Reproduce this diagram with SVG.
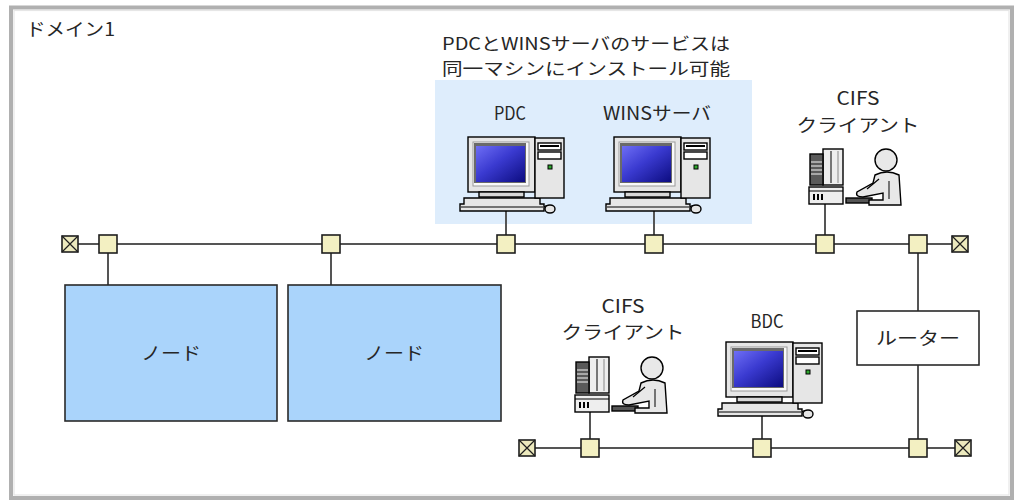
<svg xmlns="http://www.w3.org/2000/svg" width="1016" height="502" viewBox="0 0 1016 502">
  <style>
    text { font-family: "Noto Sans CJK JP", "Noto Sans", sans-serif; font-size: 18px; fill: #262626; }
    .mid { text-anchor: middle; }
    .title { font-size: 17px; }
    .wire { stroke: #555; stroke-width: 2; fill: none; }
    .tap { fill: #f3f0c2; stroke: #1e1e1e; stroke-width: 1.6; }
    .term { fill: #ece9bd; stroke: #1e1e1e; stroke-width: 1.6; }
    .node { fill: #aad4fb; stroke: #2a2a2a; stroke-width: 1.6; }
    .ol { stroke: #000; stroke-width: 1.4; }
  </style>
  <defs>
    <linearGradient id="screen" x1="0" y1="0" x2="1" y2="1">
      <stop offset="0" stop-color="#6e6ef5"/>
      <stop offset="0.45" stop-color="#3a3ad0"/>
      <stop offset="1" stop-color="#0c0c80"/>
    </linearGradient>
    <!-- desktop PC: monitor, tower, keyboard, mouse -->
    <symbol id="pc" overflow="visible">
      <rect x="8" y="2" width="67" height="55" fill="#e6e6e6" class="ol"/>
      <rect x="13" y="7" width="56" height="44" fill="#fafafa" stroke="#9a9a9a" stroke-width="1"/>
      <rect x="14" y="8" width="52" height="40" fill="#6a6a6a"/>
      <rect x="16" y="11" width="49" height="36" fill="url(#screen)"/>
      <rect x="19" y="57" width="45" height="5" fill="#d8d8d8" class="ol"/>
      <path d="M4,63 L80,63 L80,69 L84,69 L84,76 L0,76 L0,69 L4,69 Z" fill="#e6e6e6" class="ol"/>
      <line x1="1" y1="72" x2="83" y2="72" stroke="#000" stroke-width="1"/>
      <rect x="75" y="3" width="29" height="60" fill="#e6e6e6" class="ol"/>
      <rect x="78" y="8" width="23" height="7" fill="#fff" class="ol"/>
      <rect x="80" y="10" width="19" height="2" fill="#000"/>
      <rect x="78" y="17" width="23" height="7" fill="#fff" class="ol"/>
      <rect x="88" y="30" width="4" height="4" fill="#2fa82f" stroke="#000" stroke-width="1"/>
      <path d="M84,72 Q87,70 88,71" fill="none" stroke="#000" stroke-width="1.2"/>
      <ellipse cx="90" cy="74" rx="5" ry="4" fill="#e6e6e6" class="ol"/>
    </symbol>
    <!-- client workstation with seated user -->
    <symbol id="client" overflow="visible">
      <rect x="14" y="2" width="20" height="36" fill="#eeeeee" class="ol"/>
      <line x1="22" y1="4" x2="22" y2="36" stroke="#000" stroke-width="1"/>
      <line x1="29" y1="4" x2="29" y2="36" stroke="#888" stroke-width="1"/>
      <rect x="1" y="7" width="13" height="31" fill="#5a5a5a" class="ol"/>
      <line x1="2" y1="15" x2="13" y2="15" stroke="#ddd" stroke-width="1.2"/>
      <line x1="2" y1="19" x2="13" y2="19" stroke="#ddd" stroke-width="1.2"/>
      <line x1="2" y1="23" x2="13" y2="23" stroke="#ddd" stroke-width="1.2"/>
      <line x1="2" y1="27" x2="13" y2="27" stroke="#ddd" stroke-width="1.2"/>
      <rect x="0" y="40" width="34" height="17" fill="#eeeeee" class="ol"/>
      <line x1="0" y1="44" x2="34" y2="44" stroke="#000" stroke-width="1"/>
      <rect x="4" y="47" width="2" height="6" fill="#000"/>
      <rect x="8" y="47" width="2" height="6" fill="#000"/>
      <rect x="12" y="47" width="2" height="6" fill="#000"/>
      <rect x="37" y="51" width="26" height="5" fill="#555" class="ol"/>
      <circle cx="77" cy="13" r="11" fill="#e8e8e8" class="ol"/>
      <path d="M66,28 Q78,22 90,28 L92,58 L60,58 L60,53 L74,53 L74,46 L54,50 Q46,50 48,45 L64,36 Z" fill="#e8e8e8" class="ol"/>
      <path d="M70,32 L58,42" fill="none" stroke="#000" stroke-width="1.2"/>
      <path d="M80,34 L80,52" fill="none" stroke="#000" stroke-width="1"/>
    </symbol>
  </defs>

  <!-- domain frame -->
  <rect x="11" y="7.5" width="1001" height="490.5" fill="#fff" stroke="#b0b0b0" stroke-width="4"/>
  <rect x="14" y="10.5" width="995" height="484.5" fill="none" stroke="#e6e6e6" stroke-width="1.2"/>
  <text x="26" y="36" textLength="89" lengthAdjust="spacingAndGlyphs">ドメイン1</text>

  <!-- shared-host area -->
  <g id="shared-host">
    <rect x="435" y="80" width="317" height="144" fill="#deedfc"/>
    <text class="mid title" x="586" y="50" textLength="288" lengthAdjust="spacingAndGlyphs">PDCとWINSサーバのサービスは</text>
    <text class="mid title" x="586" y="75" textLength="288" lengthAdjust="spacingAndGlyphs">同一マシンにインストール可能</text>
  </g>

  <!-- connectors -->
  <g id="connectors">
    <line class="wire" x1="70" y1="244" x2="960" y2="244"/>
    <line class="wire" x1="527" y1="448" x2="963" y2="448"/>
    <line class="wire" x1="108" y1="244" x2="108" y2="286"/>
    <line class="wire" x1="331" y1="244" x2="331" y2="286"/>
    <line class="wire" x1="506" y1="210" x2="506" y2="244"/>
    <line class="wire" x1="654" y1="210" x2="654" y2="244"/>
    <line class="wire" x1="825" y1="204" x2="825" y2="244"/>
    <line class="wire" x1="918" y1="244" x2="918" y2="312"/>
    <line class="wire" x1="918" y1="365" x2="918" y2="448"/>
    <line class="wire" x1="590" y1="411" x2="590" y2="448"/>
    <line class="wire" x1="762" y1="416" x2="762" y2="448"/>
    <!-- taps on the upper segment -->
    <rect class="tap" x="99" y="235" width="18" height="18"/>
    <rect class="tap" x="322" y="235" width="18" height="18"/>
    <rect class="tap" x="497" y="235" width="18" height="18"/>
    <rect class="tap" x="645" y="235" width="18" height="18"/>
    <rect class="tap" x="816" y="235" width="18" height="18"/>
    <rect class="tap" x="909" y="235" width="18" height="18"/>
    <!-- taps on the lower segment -->
    <rect class="tap" x="581" y="439" width="18" height="18"/>
    <rect class="tap" x="753" y="439" width="18" height="18"/>
    <rect class="tap" x="909" y="439" width="18" height="18"/>
    <!-- terminators -->
    <g class="term">
      <rect x="62" y="236" width="16" height="16"/>
      <path d="M62,236 L78,252 M78,236 L62,252" stroke="#1e1e1e" stroke-width="1.2"/>
      <rect x="952" y="236" width="16" height="16"/>
      <path d="M952,236 L968,252 M968,236 L952,252" stroke="#1e1e1e" stroke-width="1.2"/>
      <rect x="519" y="440" width="16" height="16"/>
      <path d="M519,440 L535,456 M535,440 L519,456" stroke="#1e1e1e" stroke-width="1.2"/>
      <rect x="955" y="440" width="16" height="16"/>
      <path d="M955,440 L971,456 M971,440 L955,456" stroke="#1e1e1e" stroke-width="1.2"/>
    </g>
  </g>

  <g id="node1">
    <rect class="node" x="65" y="285" width="212" height="136"/>
    <text class="mid" x="171" y="360" textLength="60" lengthAdjust="spacingAndGlyphs">ノード</text>
  </g>
  <g id="node2">
    <rect class="node" x="288" y="285" width="213" height="136"/>
    <text class="mid" x="394" y="360" textLength="60" lengthAdjust="spacingAndGlyphs">ノード</text>
  </g>

  <g id="pdc">
    <text class="mid" x="510" y="120" textLength="32" lengthAdjust="spacingAndGlyphs">PDC</text>
    <use href="#pc" x="460" y="135"/>
  </g>
  <g id="wins">
    <text class="mid" x="657" y="120" textLength="108" lengthAdjust="spacingAndGlyphs">WINSサーバ</text>
    <use href="#pc" x="606" y="135"/>
  </g>
  <g id="bdc">
    <text class="mid" x="767" y="328" textLength="33" lengthAdjust="spacingAndGlyphs">BDC</text>
    <use href="#pc" x="718" y="340"/>
  </g>

  <g id="cifs-client-1">
    <text class="mid" x="858" y="105" textLength="43" lengthAdjust="spacingAndGlyphs">CIFS</text>
    <text class="mid" x="858" y="132" textLength="123" lengthAdjust="spacingAndGlyphs">クライアント</text>
    <use href="#client" x="809" y="147"/>
  </g>
  <g id="cifs-client-2">
    <text class="mid" x="623" y="313" textLength="43" lengthAdjust="spacingAndGlyphs">CIFS</text>
    <text class="mid" x="623" y="339" textLength="123" lengthAdjust="spacingAndGlyphs">クライアント</text>
    <use href="#client" x="575" y="355"/>
  </g>

  <g id="router">
    <rect x="857" y="311" width="122" height="54" fill="#fff" stroke="#2a2a2a" stroke-width="1.6"/>
    <text class="mid" x="918" y="345" textLength="84" lengthAdjust="spacingAndGlyphs">ルーター</text>
  </g>
</svg>
